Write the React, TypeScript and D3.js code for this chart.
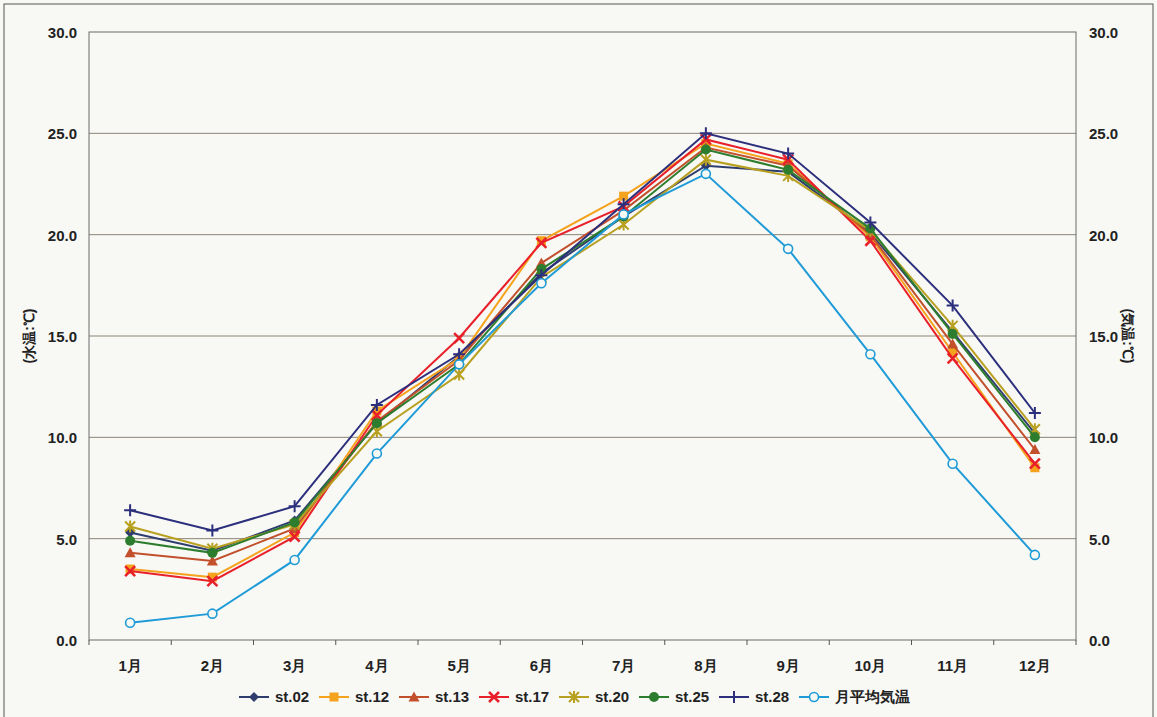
import React from 'react';
import * as d3 from 'd3';

const months = ['1月', '2月', '3月', '4月', '5月', '6月', '7月', '8月', '9月', '10月', '11月', '12月'];
const yTicks = [0, 5, 10, 15, 20, 25, 30];

const st02 = [5.3, 4.4, 5.9, 10.7, 14.0, 18.1, 20.9, 23.4, 23.1, 20.1, 15.2, 10.2];
const st12 = [3.5, 3.1, 5.3, 11.3, 13.9, 19.7, 21.9, 24.5, 23.5, 19.9, 14.2, 8.5];
const st13 = [4.3, 3.9, 5.5, 10.8, 13.8, 18.6, 21.2, 24.3, 23.4, 20.0, 14.6, 9.4];
const st17 = [3.4, 2.9, 5.1, 11.1, 14.9, 19.6, 21.4, 24.7, 23.7, 19.7, 13.9, 8.7];
const st20 = [5.6, 4.5, 5.7, 10.3, 13.1, 17.9, 20.5, 23.7, 22.9, 20.2, 15.5, 10.4];
const st25 = [4.9, 4.3, 5.8, 10.7, 13.6, 18.3, 20.9, 24.2, 23.2, 20.3, 15.1, 10.0];
const st28 = [6.4, 5.4, 6.6, 11.6, 14.1, 18.0, 21.5, 25.0, 24.0, 20.6, 16.5, 11.2];
const airTemp = [0.85, 1.3, 3.95, 9.2, 13.6, 17.6, 21.0, 23.0, 19.3, 14.1, 8.7, 4.2];

const series = [
  { name: 'st.02', values: st02, color: '#2f3d6e', marker: 'diamond' },
  { name: 'st.12', values: st12, color: '#f5a21c', marker: 'square' },
  { name: 'st.13', values: st13, color: '#c2502c', marker: 'triangle' },
  { name: 'st.17', values: st17, color: '#e8202a', marker: 'x' },
  { name: 'st.20', values: st20, color: '#b8a020', marker: 'star' },
  { name: 'st.25', values: st25, color: '#2d7d2e', marker: 'circle' },
  { name: 'st.28', values: st28, color: '#2c2f7c', marker: 'plus' },
  { name: '月平均気温', values: airTemp, color: '#1f9bd7', marker: 'ocircle' },
];

const font = '"Liberation Sans", Arial, sans-serif';

function Marker({ type, x, y, color }) {
  const s = 5;
  switch (type) {
    case 'diamond':
      return <path d={`M${x},${y - s}L${x + s},${y}L${x},${y + s}L${x - s},${y}Z`} fill={color} />;
    case 'square':
      return <rect x={x - 4.5} y={y - 4.5} width={9} height={9} fill={color} />;
    case 'triangle':
      return <path d={`M${x},${y - 5.5}L${x + 5.5},${y + 4.5}L${x - 5.5},${y + 4.5}Z`} fill={color} />;
    case 'x':
      return (
        <path d={`M${x - 5},${y - 5}L${x + 5},${y + 5}M${x - 5},${y + 5}L${x + 5},${y - 5}`} stroke={color} strokeWidth={2.5} />
      );
    case 'star':
      return (
        <path
          d={`M${x - 5},${y - 5}L${x + 5},${y + 5}M${x - 5},${y + 5}L${x + 5},${y - 5}M${x},${y - 6}L${x},${y + 6}`}
          stroke={color}
          strokeWidth={2}
        />
      );
    case 'circle':
      return <circle cx={x} cy={y} r={5} fill={color} />;
    case 'plus':
      return <path d={`M${x - 6},${y}L${x + 6},${y}M${x},${y - 6}L${x},${y + 6}`} stroke={color} strokeWidth={2} />;
    case 'ocircle':
      return <circle cx={x} cy={y} r={4.5} fill="#f8f8f5" stroke={color} strokeWidth={1.6} />;
    default:
      return null;
  }
}

export default function App() {
  const width = 1157;
  const height = 717;
  const left = 89;
  const right = 1076;
  const top = 32;
  const bottom = 640;

  const x = d3.scaleBand().domain(months).range([left, right]);
  const y = d3.scaleLinear().domain([0, 30]).range([bottom, top]);
  const cx = (m) => x(m) + x.bandwidth() / 2;

  const line = d3
    .line()
    .x((d, i) => cx(months[i]))
    .y((d) => y(d));

  const legendX = d3.scaleLinear().domain([0, 1]).range([239, 319]);

  return (
    <svg width={width} height={height} style={{ position: 'absolute', left: 0, top: 0, background: '#f8f8f5' }} fontFamily={font}>
      <rect x={0} y={0} width={width} height={height} fill="#f8f8f5" />
      <rect x={4} y={4} width={1149} height={720} fill="none" stroke="#555" strokeWidth={1} />

      {yTicks.map((t) => (
        <g key={t}>
          {t > 0 && t < 30 && <line x1={left} x2={right} y1={y(t)} y2={y(t)} stroke="#8c8374" strokeWidth={1} />}
          <text x={77} y={y(t) + 6} textAnchor="end" fontSize={15} fontWeight="bold" fill="#222">
            {t.toFixed(1)}
          </text>
          <text x={1089} y={y(t) + 6} textAnchor="start" fontSize={15} fontWeight="bold" fill="#222">
            {t.toFixed(1)}
          </text>
        </g>
      ))}

      <rect x={left} y={top} width={right - left} height={bottom - top} fill="none" stroke="#6a6a6a" strokeWidth={1} />

      {months.map((m, i) => (
        <g key={m}>
          <line x1={x(m)} x2={x(m)} y1={bottom} y2={bottom + 5} stroke="#555" />
          {i === months.length - 1 && <line x1={right} x2={right} y1={bottom} y2={bottom + 5} stroke="#555" />}
          <text x={cx(m)} y={bottom + 31} textAnchor="middle" fontSize={15} fontWeight="bold" fill="#222">
            {m}
          </text>
        </g>
      ))}

      <text transform={`translate(34,${y(15)}) rotate(-90)`} textAnchor="middle" fontSize={14} fontWeight="bold" fill="#222">
        (水温:℃)
      </text>
      <text transform={`translate(1123,${y(15)}) rotate(90)`} textAnchor="middle" fontSize={14} fontWeight="bold" fill="#222">
        (気温:℃)
      </text>

      {series.map((s) => (
        <g key={s.name}>
          <path d={line(s.values)} fill="none" stroke={s.color} strokeWidth={2} />
          {s.values.map((v, i) => (
            <Marker key={i} type={s.marker} x={cx(months[i])} y={y(v)} color={s.color} />
          ))}
        </g>
      ))}

      {series.map((s, i) => {
        const lx = legendX(i);
        return (
          <g key={s.name}>
            <line x1={lx} x2={lx + 30} y1={697} y2={697} stroke={s.color} strokeWidth={2} />
            <Marker type={s.marker} x={lx + 15} y={697} color={s.color} />
            <text x={lx + 36} y={702} fontSize={15} fontWeight="bold" fill="#222">
              {s.name}
            </text>
          </g>
        );
      })}
    </svg>
  );
}
